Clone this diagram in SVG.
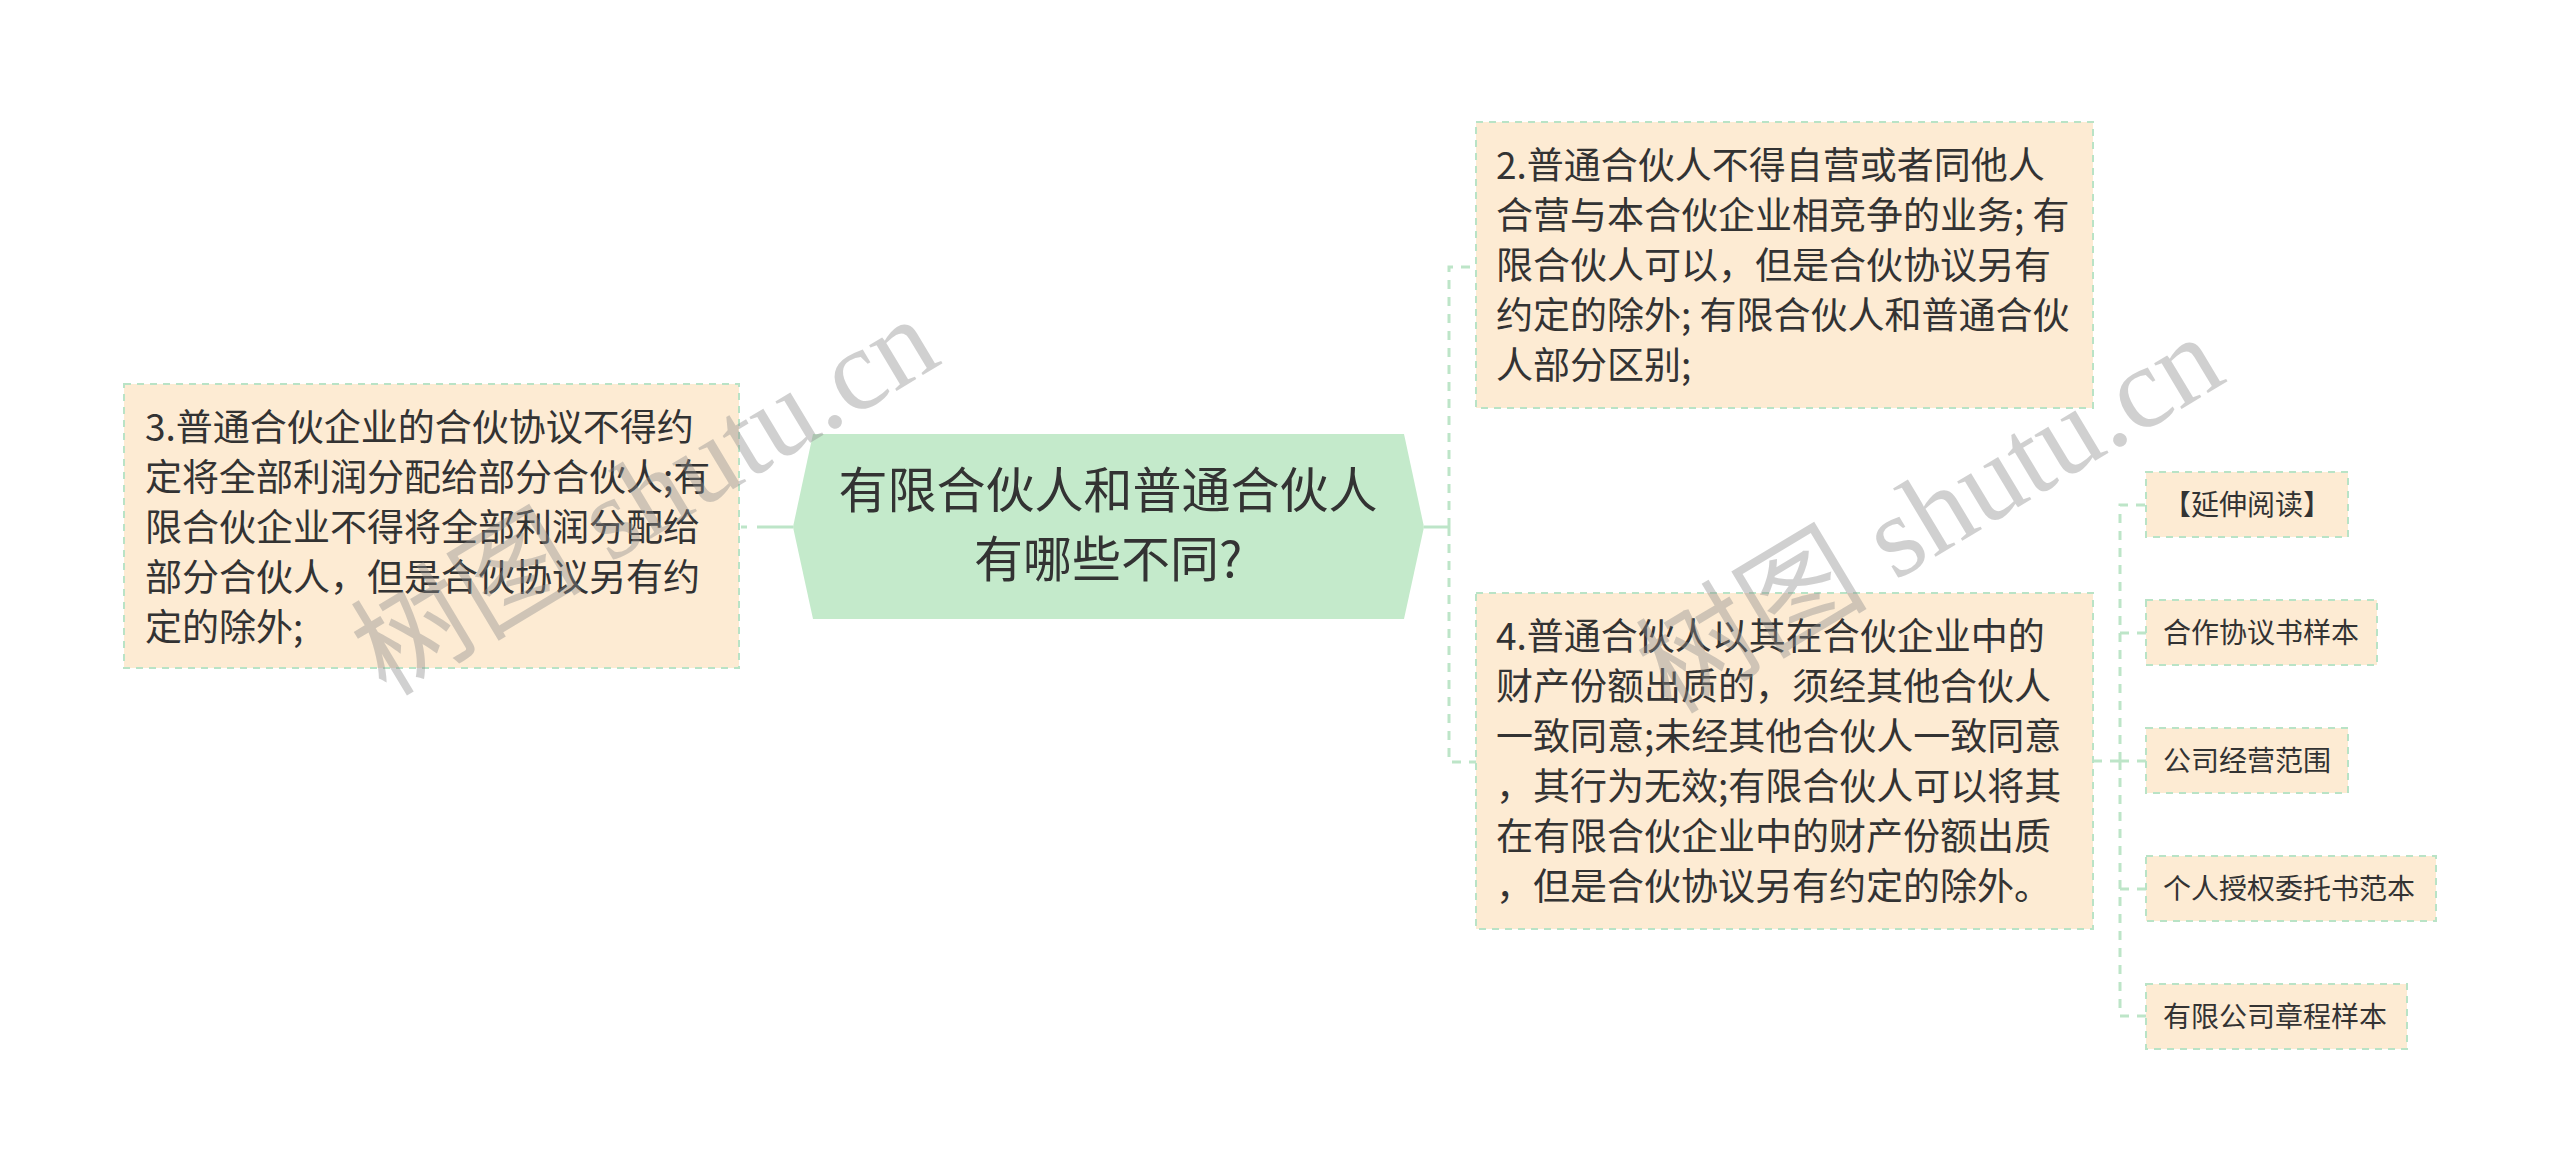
<svg xmlns="http://www.w3.org/2000/svg" width="2560" height="1175" viewBox="0 0 2560 1175">
<style>
.box{fill:#fdebd3;stroke:#b9e3c6;stroke-width:2;stroke-dasharray:7 6;}
.t{font-family:"Noto Sans CJK SC","Noto Sans",sans-serif;fill:#333333;}
.big{font-size:37px;}
.sm{font-size:28px;}
.ctr{font-size:49px;text-anchor:middle;}
.cn{fill:none;stroke:#bde5c8;stroke-width:3;}
.dash{stroke-dasharray:9 8;}
.wm{font-family:"Liberation Serif","Noto Sans CJK SC",serif;font-size:116px;fill:#8c8c8c;opacity:0.4;}
</style>
<rect width="2560" height="1175" fill="#ffffff"/>
<g id="connectors">
<path class="cn" d="M757,527 H793"/>
<path class="cn" d="M741,527 H747"/>
<path class="cn" d="M1424,527 H1449"/>
<path class="cn dash" d="M1449,527 V267 H1476"/>
<path class="cn dash" d="M1449,527 V762 H1476"/>
<path class="cn dash" d="M2093,761 H2120"/>
<path class="cn dash" d="M2120,761 V505 H2146"/>
<path class="cn dash" d="M2120,761 V1016 H2146"/>
<path class="cn dash" d="M2120,633 H2146"/>
<path class="cn dash" d="M2120,761 H2146"/>
<path class="cn dash" d="M2120,889 H2146"/>
</g>
<g id="root">
<polygon points="793,527 813,434 1404,434 1424,527 1404,619 813,619" fill="#c4eacb"/>
<text class="t ctr" x="1108" y="508">有限合伙人和普通合伙人</text>
<text class="t ctr" x="1108" y="577">有哪些不同?</text>
</g>
<g id="n3">
<rect class="box" x="124" y="384" width="615" height="284"/>
<text class="t big" x="145" y="441">3.普通合伙企业的合伙协议不得约</text>
<text class="t big" x="145" y="491">定将全部利润分配给部分合伙人;有</text>
<text class="t big" x="145" y="541">限合伙企业不得将全部利润分配给</text>
<text class="t big" x="145" y="591">部分合伙人，但是合伙协议另有约</text>
<text class="t big" x="145" y="641">定的除外;</text>
</g>
<g id="n2">
<rect class="box" x="1476" y="122" width="617" height="286"/>
<text class="t big" x="1496" y="179">2.普通合伙人不得自营或者同他人</text>
<text class="t big" x="1496" y="229">合营与本合伙企业相竞争的业务; 有</text>
<text class="t big" x="1496" y="279">限合伙人可以，但是合伙协议另有</text>
<text class="t big" x="1496" y="329">约定的除外; 有限合伙人和普通合伙</text>
<text class="t big" x="1496" y="379">人部分区别;</text>
</g>
<g id="n4">
<rect class="box" x="1476" y="593" width="617" height="336"/>
<text class="t big" x="1496" y="650">4.普通合伙人以其在合伙企业中的</text>
<text class="t big" x="1496" y="700">财产份额出质的，须经其他合伙人</text>
<text class="t big" x="1496" y="750">一致同意;未经其他合伙人一致同意</text>
<text class="t big" x="1496" y="800">，其行为无效;有限合伙人可以将其</text>
<text class="t big" x="1496" y="850">在有限合伙企业中的财产份额出质</text>
<text class="t big" x="1496" y="900">，但是合伙协议另有约定的除外。</text>
</g>
<g id="s1">
<rect class="box" x="2146" y="472" width="202" height="65"/>
<text class="t sm" x="2163" y="515">【延伸阅读】</text>
</g>
<g id="s2">
<rect class="box" x="2146" y="600" width="231" height="65"/>
<text class="t sm" x="2163" y="643">合作协议书样本</text>
</g>
<g id="s3">
<rect class="box" x="2146" y="728" width="202" height="65"/>
<text class="t sm" x="2163" y="771">公司经营范围</text>
</g>
<g id="s4">
<rect class="box" x="2146" y="856" width="290" height="65"/>
<text class="t sm" x="2163" y="899">个人授权委托书范本</text>
</g>
<g id="s5">
<rect class="box" x="2146" y="984" width="261" height="65"/>
<text class="t sm" x="2163" y="1027">有限公司章程样本</text>
</g>
<g id="watermarks">
<text class="wm" transform="translate(665,530) rotate(-31)" text-anchor="middle">树图 shutu.cn</text>
<text class="wm" transform="translate(1950,548) rotate(-31)" text-anchor="middle">树图 shutu.cn</text>
</g>
</svg>
